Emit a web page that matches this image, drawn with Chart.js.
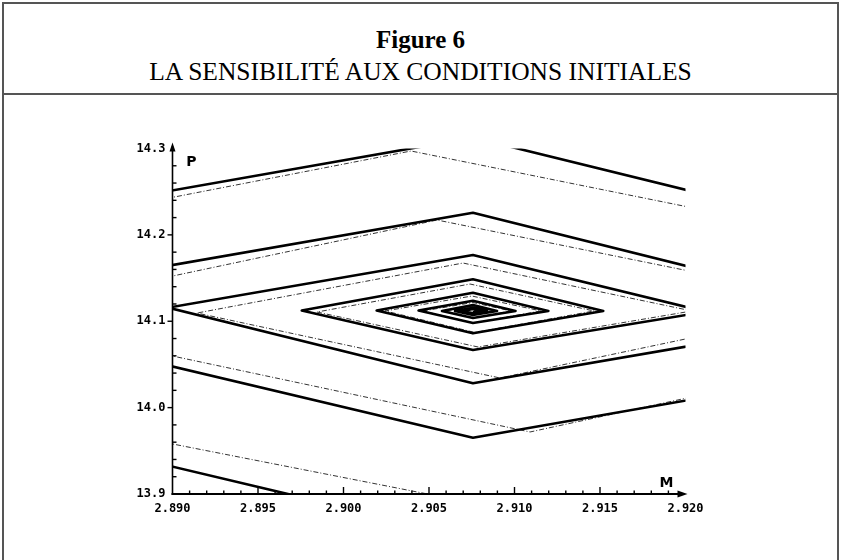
<!DOCTYPE html>
<html><head><meta charset="utf-8">
<script src="https://cdn.jsdelivr.net/npm/chart.js@4.4.1/dist/chart.umd.min.js"></script>
<style>
html,body{margin:0;padding:0;background:#fff;width:842px;height:560px;overflow:hidden;}
#frame{position:absolute;left:2px;top:2px;width:837px;height:640px;border:2px solid #555;box-sizing:border-box;}
#head{position:absolute;left:0;top:0;width:100%;height:91px;border-bottom:2px solid #555;box-sizing:border-box;}
.t1{position:absolute;left:0;top:22px;width:100%;text-align:center;font:bold 25px "Liberation Serif";line-height:28px;color:#000;}
.t2{position:absolute;left:0;top:54px;width:100%;text-align:center;font:25.5px "Liberation Serif";line-height:28px;color:#000;}
#c{position:absolute;left:0;top:0;}
</style></head>
<body>
<div id="frame"><div id="head"><div class="t1">Figure 6</div><div class="t2">LA SENSIBILITÉ AUX CONDITIONS INITIALES</div></div></div>
<canvas id="c" width="842" height="560"></canvas>
<script>
const xTicks = [2.890, 2.895, 2.900, 2.905, 2.910, 2.915, 2.920];
const yTicks = [13.9, 14.0, 14.1, 14.2, 14.3];
const xAxisName = "M";
const yAxisName = "P";

// trajectoire 1 (trait plein)
const solidM = [2.90757, 2.90804, 2.90757, 2.90699, 2.90757, 2.90839, 2.90757, 2.90652, 2.90757, 2.90898,
  2.90757, 2.90576, 2.90757, 2.91006, 2.90757, 2.90439, 2.90757, 2.91198, 2.90757, 2.90194,
  2.90757, 2.91519, 2.90757, 2.89756, 2.90757, 2.92120, 2.90757, 2.88974, 2.90757, 2.93120,
  2.90757, 2.87558, 2.90757, 2.94939, 2.90757, 2.85097, 2.90757];
const solidP = [14.1104, 14.1119, 14.1142, 14.1119, 14.1093, 14.1119, 14.1157, 14.1119, 14.1072, 14.1119,
  14.1188, 14.1119, 14.1038, 14.1119, 14.1238, 14.1124, 14.0980, 14.1119, 14.1330, 14.1124,
  14.0860, 14.1119, 14.1486, 14.1124, 14.0667, 14.1110, 14.1767, 14.1157, 14.0282, 14.1088,
  14.2257, 14.1153, 13.9652, 14.1095, 14.3127, 14.1153, 13.8491];

// trajectoire 2 (pointillés)
const dottedM = [2.90664, 2.90757, 2.90880, 2.90757, 2.90594, 2.90757, 2.90980, 2.90757, 2.90465, 2.90757,
  2.91155, 2.90751, 2.90243, 2.90769, 2.91465, 2.90740, 2.89845, 2.90787, 2.92038, 2.90699,
  2.89143, 2.90915, 2.92974, 2.90547, 2.87898, 2.91091, 2.94681, 2.90395, 2.85307, 2.91266];
const dottedP = [14.1119, 14.1075, 14.1119, 14.1176, 14.1119, 14.1040, 14.1119, 14.1217, 14.1119, 14.0980,
  14.1119, 14.1292, 14.1119, 14.0870, 14.1119, 14.1431, 14.1107, 14.0702, 14.1119, 14.1674,
  14.1095, 14.0343, 14.1200, 14.2172, 14.1061, 13.9718, 14.1258, 14.2971, 14.1014, 13.8699];

const toPts = (m, p) => m.map((v, i) => ({x: v, y: p[i]}));

const axisDeco = {
  id: 'axisDeco',
  afterDraw(chart) {
    const {ctx, chartArea: a, scales: {x, y}} = chart;
    ctx.save();
    ctx.strokeStyle = '#000'; ctx.fillStyle = '#000';
    ctx.lineWidth = 1.6;
    ctx.beginPath(); ctx.moveTo(a.left, a.bottom + 1); ctx.lineTo(a.left, a.top - 2); ctx.stroke();
    ctx.beginPath(); ctx.moveTo(a.left, a.top - 6); ctx.lineTo(a.left - 3, a.top + 3); ctx.lineTo(a.left + 3, a.top + 3); ctx.closePath(); ctx.fill();
    ctx.lineWidth = 2.2;
    ctx.beginPath(); ctx.moveTo(a.left - 1, a.bottom); ctx.lineTo(a.right - 4, a.bottom); ctx.stroke();
    ctx.beginPath(); ctx.moveTo(a.right + 2, a.bottom); ctx.lineTo(a.right - 8, a.bottom - 3.5); ctx.lineTo(a.right - 8, a.bottom + 3.5); ctx.closePath(); ctx.fill();
    ctx.lineWidth = 1.4;
    for (let i = 1; i < 30; i++) {
      const px = x.getPixelForValue(xTicks[0] + i * 0.001);
      const len = (i % 5 === 0) ? 7 : 3.5;
      ctx.beginPath(); ctx.moveTo(px, a.bottom); ctx.lineTo(px, a.bottom - len); ctx.stroke();
    }
    for (let i = 1; i < 20; i++) {
      const py = y.getPixelForValue(yTicks[0] + i * 0.02);
      ctx.beginPath();
      if (i % 5 === 0) { ctx.moveTo(a.left - 5, py); ctx.lineTo(a.left, py); }
      else { ctx.moveTo(a.left, py); ctx.lineTo(a.left + 4, py); }
      ctx.stroke();
    }
    ctx.font = 'bold 14px "DejaVu Sans"';
    ctx.textAlign = 'center'; ctx.textBaseline = 'middle';
    ctx.fillText(yAxisName, a.left + 19, a.top + 14);
    ctx.fillText(xAxisName, a.right - 19, a.bottom - 11);
    ctx.restore();
  }
};

const tickFont = {family: '"DejaVu Sans Mono"', weight: 'bold', size: 12};

new Chart(document.getElementById('c'), {
  type: 'scatter',
  data: {
    datasets: [
      {data: toPts(solidM, solidP), showLine: true, borderColor: '#000', borderWidth: 2.6,
       pointRadius: 0, tension: 0, clip: 0, borderJoinStyle: 'round'},
      {data: toPts(dottedM, dottedP), showLine: true, borderColor: '#333', borderWidth: 1,
       borderDash: [5, 2, 1, 2], pointRadius: 0, tension: 0, clip: 0}
    ]
  },
  options: {
    responsive: false, animation: false, devicePixelRatio: 1,
    layout: {padding: {left: 0, top: 148.5, right: 156.5, bottom: 0}},
    plugins: {legend: {display: false}, tooltip: {enabled: false}},
    scales: {
      x: {
        type: 'linear', min: xTicks[0], max: xTicks[xTicks.length - 1],
        afterBuildTicks: s => { s.ticks = xTicks.map(v => ({value: v})); },
        afterFit: s => { s.height = 66; },
        ticks: {callback: v => Number(v).toFixed(3), font: tickFont, color: '#000', padding: 8, maxRotation: 0, autoSkip: false},
        grid: {display: false, drawTicks: false},
        border: {display: false}
      },
      y: {
        type: 'linear', min: yTicks[0], max: yTicks[yTicks.length - 1],
        afterBuildTicks: s => { s.ticks = yTicks.map(v => ({value: v})); },
        afterFit: s => { s.width = 172.5; },
        ticks: {callback: v => Number(v).toFixed(1), font: tickFont, color: '#000', padding: 7, autoSkip: false},
        grid: {display: false, drawTicks: false},
        border: {display: false}
      }
    }
  },
  plugins: [axisDeco]
});
</script>
</body></html>
